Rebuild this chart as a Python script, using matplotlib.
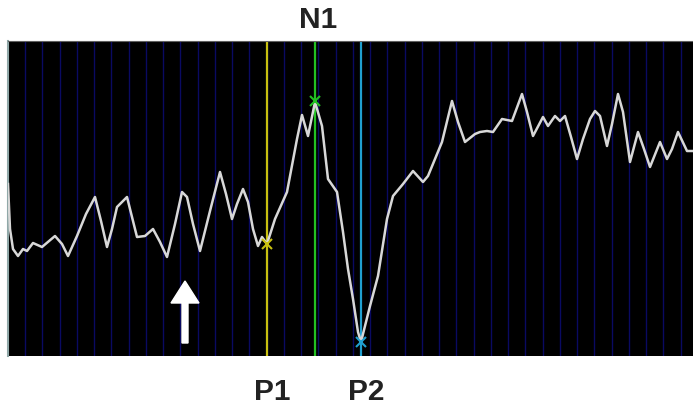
import numpy as np
import matplotlib
matplotlib.use("Agg")
import matplotlib.pyplot as plt

# trace (sample position, screen level; larger level = lower on screen)
t = [8, 10, 13, 18, 23, 27, 33, 42, 55, 62, 68, 77, 86, 95, 101, 107, 112, 117, 127, 132,
     137, 145, 153, 160, 167, 175, 182, 187, 193, 200, 210, 220, 226, 232, 237, 243, 248, 253,
     258, 262, 267, 275, 287, 297, 302, 308, 315, 322, 328, 337, 343, 348, 353, 358, 361, 365,
     370, 378, 387, 393, 403, 413, 423, 428, 435, 442, 452, 458, 465, 475, 480, 487, 493, 502,
     512, 522, 527, 533, 543, 548, 555, 560, 565, 571, 577, 583, 590, 595, 600, 607, 612, 618,
     623, 630, 638, 644, 650, 660, 667, 672, 678, 687, 693]
level = [185, 230, 250, 257, 250, 252, 244, 248, 237, 245, 257, 237, 215, 198, 222, 248, 230,
         208, 198, 218, 238, 237, 230, 243, 258, 225, 193, 198, 225, 252, 212, 173, 195, 220,
         205, 190, 203, 230, 247, 238, 245, 220, 193, 140, 116, 137, 103, 127, 180, 193, 233,
         270, 300, 333, 343, 327, 307, 277, 220, 197, 185, 172, 183, 177, 160, 143, 102, 123,
         143, 135, 133, 132, 133, 120, 122, 95, 113, 137, 118, 127, 117, 122, 117, 138, 160,
         140, 120, 112, 117, 147, 125, 95, 113, 163, 133, 150, 168, 143, 160, 150, 133, 152, 152]

# peak cursors
peak_names = ["P1", "N1", "P2"]
peak_t = [267, 315, 361]
peak_level = [245, 102, 343]
peak_colors = ["#c8c010", "#22c022", "#20a0d0"]

fig = plt.figure(figsize=(6.93, 4.06), dpi=100)
ax = fig.add_axes([8 / 693, 49 / 406, 685 / 693, 315 / 406])
ax.set_facecolor("black")
ax.set_xlim(8, 693)
ax.set_ylim(357, 42)

for x in np.arange(8 + 17.25, 693, 17.25):
    ax.axvline(x, color="#0a0a62", lw=1, zorder=1)

for x, c in zip(peak_t, peak_colors):
    ax.axvline(x, color=c, lw=1.6, zorder=2)

ax.plot(t, level, color="#d8d8d8", lw=1.8, solid_joinstyle="round", zorder=3)

for x, y, c in zip(peak_t, peak_level, peak_colors):
    ax.plot(x, y, marker="x", color=c, ms=7, mew=1.5, zorder=4)

ax.arrow(185, 344, 0, -62, width=6, head_width=28, head_length=22,
         length_includes_head=True, color="white", zorder=5)

ax.set_xticks([])
ax.set_yticks([])
for side in ["right", "bottom"]:
    ax.spines[side].set_visible(False)
ax.spines["top"].set_color("#606060")
ax.spines["left"].set_color("#90a8a8")
ax.spines["left"].set_linewidth(1.5)

label_font = dict(fontsize=21.5, fontweight="bold", color="#222222",
                  family=["Liberation Sans Narrow", "Liberation Sans"])
for name, x in zip(peak_names, peak_t):
    if name == "N1":
        fig.text((x + 3) / 693, 1 - 20 / 406, name, ha="center", va="center", **label_font)
    else:
        fig.text((x + 5) / 693, 1 - 392 / 406, name, ha="center", va="center", **label_font)

fig.savefig("out.png", dpi=100, facecolor="white")
